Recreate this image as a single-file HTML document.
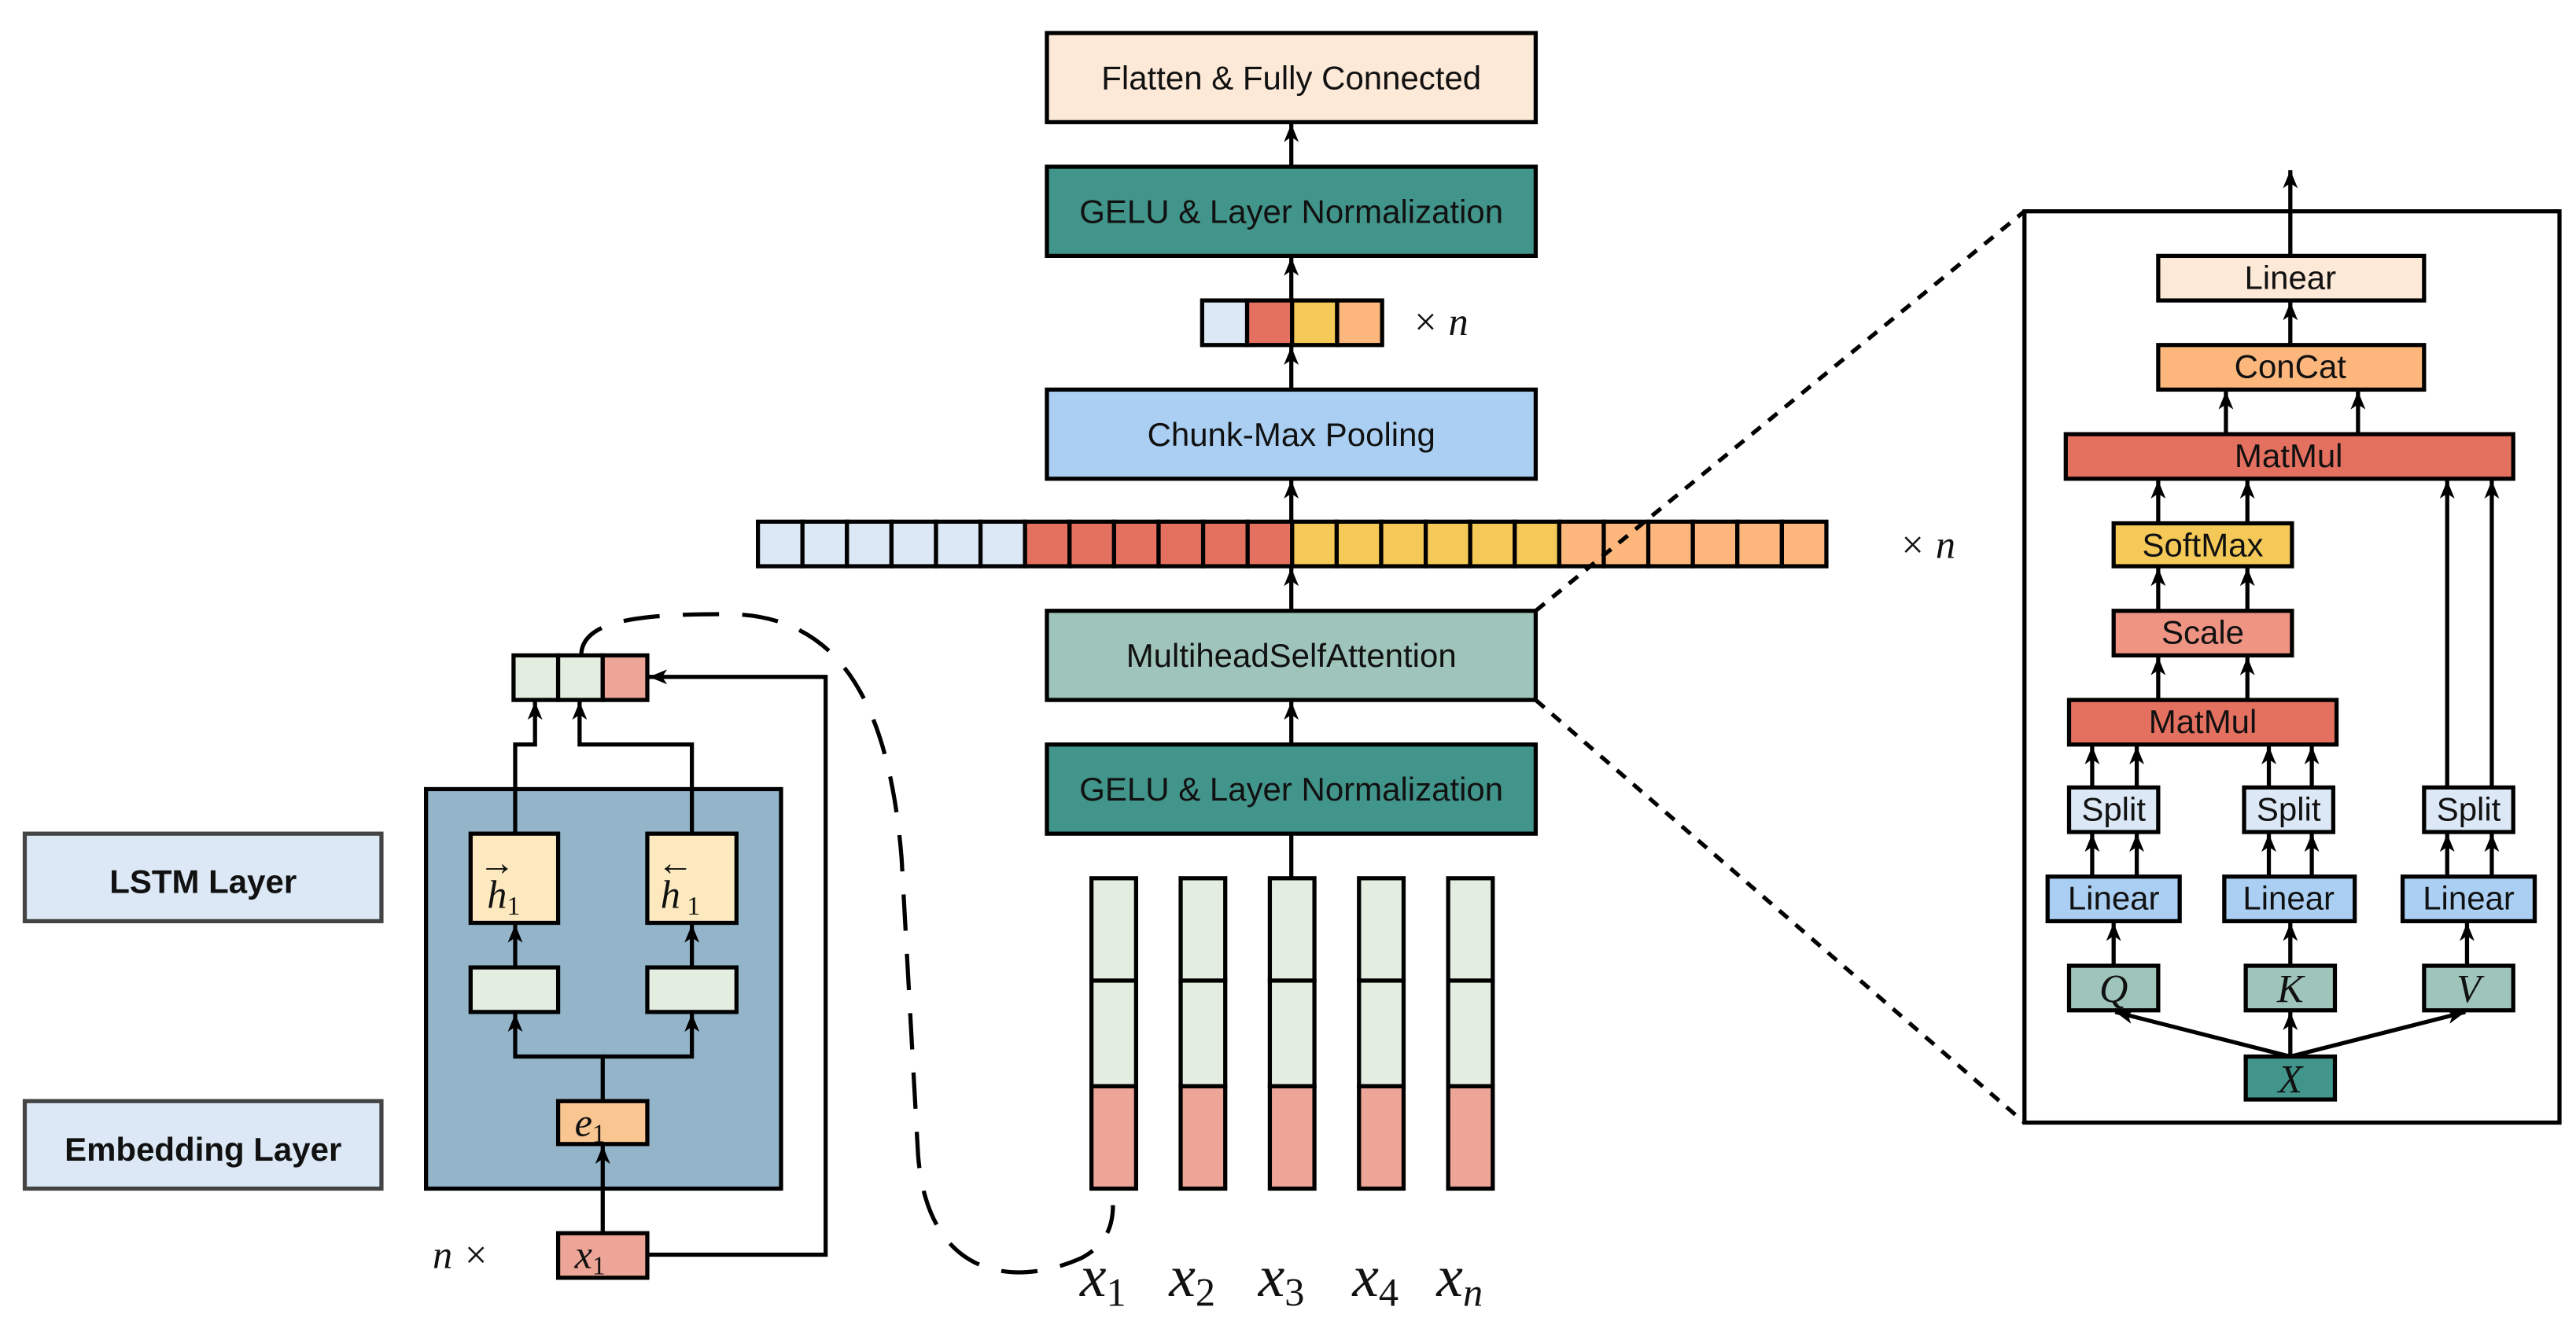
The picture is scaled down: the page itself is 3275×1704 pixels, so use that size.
<!DOCTYPE html>
<html><head><meta charset="utf-8"><style>
html,body{margin:0;padding:0;background:#fff;}
svg{display:block;}
text{font-family:"Liberation Sans",sans-serif;fill:#111;}
.m{font-family:"Liberation Serif",serif;font-style:italic;}
</style></head><body>
<svg width="3275" height="1704" viewBox="0 0 1560 811.7" preserveAspectRatio="none" xmlns="http://www.w3.org/2000/svg">
<defs>
<marker id="a" viewBox="0 0 12 12" refX="11" refY="6" markerWidth="12" markerHeight="12" markerUnits="userSpaceOnUse" orient="auto">
<path d="M0,1.5 L11,6 L0,10.5 L3,6 Z" fill="#000"/></marker>
</defs>
<g stroke="#000" stroke-width="2.5" fill="none">
<rect x="634" y="20" width="296" height="54" fill="#fde9d7"/>
<rect x="634" y="101" width="296" height="54" fill="#42958a"/>
<rect x="634" y="236" width="296" height="54" fill="#abcff2"/>
<rect x="634" y="370" width="296" height="54" fill="#9fc5bb"/>
<rect x="634" y="451" width="296" height="54" fill="#42958a"/>
<g marker-end="url(#a)">
<line x1="782" y1="101" x2="782" y2="75"/>
<line x1="782" y1="182" x2="782" y2="156"/>
<line x1="782" y1="236" x2="782" y2="210"/>
<line x1="782" y1="316" x2="782" y2="291"/>
<line x1="782" y1="370" x2="782" y2="344"/>
<line x1="782" y1="451" x2="782" y2="425"/>
</g>
<line x1="782" y1="532" x2="782" y2="506"/>
<rect x="728" y="182" width="27.25" height="27" fill="#dce8f5"/>
<rect x="755.25" y="182" width="27.25" height="27" fill="#e47060"/>
<rect x="782.5" y="182" width="27.25" height="27" fill="#f5c957"/>
<rect x="809.75" y="182" width="27.25" height="27" fill="#fdb77c"/>
</g>
<g stroke="#000" stroke-width="2.5">
<rect x="459.0" y="316" width="26.96" height="27" fill="#dce8f5"/><rect x="485.96" y="316" width="26.96" height="27" fill="#dce8f5"/><rect x="512.92" y="316" width="26.96" height="27" fill="#dce8f5"/><rect x="539.88" y="316" width="26.96" height="27" fill="#dce8f5"/><rect x="566.84" y="316" width="26.96" height="27" fill="#dce8f5"/><rect x="593.8" y="316" width="26.96" height="27" fill="#dce8f5"/>
<rect x="620.76" y="316" width="26.96" height="27" fill="#e47060"/><rect x="647.72" y="316" width="26.96" height="27" fill="#e47060"/><rect x="674.68" y="316" width="26.96" height="27" fill="#e47060"/><rect x="701.64" y="316" width="26.96" height="27" fill="#e47060"/><rect x="728.6" y="316" width="26.96" height="27" fill="#e47060"/><rect x="755.56" y="316" width="26.96" height="27" fill="#e47060"/>
<rect x="782.52" y="316" width="26.96" height="27" fill="#f5c957"/><rect x="809.48" y="316" width="26.96" height="27" fill="#f5c957"/><rect x="836.44" y="316" width="26.96" height="27" fill="#f5c957"/><rect x="863.4" y="316" width="26.96" height="27" fill="#f5c957"/><rect x="890.36" y="316" width="26.96" height="27" fill="#f5c957"/><rect x="917.32" y="316" width="26.96" height="27" fill="#f5c957"/>
<rect x="944.28" y="316" width="26.96" height="27" fill="#fdb77c"/><rect x="971.24" y="316" width="26.96" height="27" fill="#fdb77c"/><rect x="998.2" y="316" width="26.96" height="27" fill="#fdb77c"/><rect x="1025.16" y="316" width="26.96" height="27" fill="#fdb77c"/><rect x="1052.12" y="316" width="26.96" height="27" fill="#fdb77c"/><rect x="1079.08" y="316" width="26.96" height="27" fill="#fdb77c"/>
<g>
<rect x="661" y="532" width="27" height="62" fill="#e3ede0"/><rect x="661" y="594" width="27" height="64" fill="#e3ede0"/><rect x="661" y="658" width="27" height="62" fill="#eca597"/>
<rect x="715" y="532" width="27" height="62" fill="#e3ede0"/><rect x="715" y="594" width="27" height="64" fill="#e3ede0"/><rect x="715" y="658" width="27" height="62" fill="#eca597"/>
<rect x="769" y="532" width="27" height="62" fill="#e3ede0"/><rect x="769" y="594" width="27" height="64" fill="#e3ede0"/><rect x="769" y="658" width="27" height="62" fill="#eca597"/>
<rect x="823" y="532" width="27" height="62" fill="#e3ede0"/><rect x="823" y="594" width="27" height="64" fill="#e3ede0"/><rect x="823" y="658" width="27" height="62" fill="#eca597"/>
<rect x="877" y="532" width="27" height="62" fill="#e3ede0"/><rect x="877" y="594" width="27" height="64" fill="#e3ede0"/><rect x="877" y="658" width="27" height="62" fill="#eca597"/>
</g>
<line x1="930" y1="370" x2="1226" y2="128" stroke-dasharray="7 6"/>
<line x1="930" y1="424" x2="1226" y2="680" stroke-dasharray="7 6"/>
<rect x="1226" y="128" width="324" height="552" fill="#fff"/>
<rect x="1307" y="155" width="161" height="27" fill="#fde9d7"/>
<rect x="1307" y="209" width="161" height="27" fill="#fdb77c"/>
<rect x="1251" y="263" width="271" height="27" fill="#e47060"/>
<rect x="1280" y="317" width="108" height="26" fill="#f5c957"/>
<rect x="1280" y="370" width="108" height="27" fill="#ef9483"/>
<rect x="1253" y="424" width="162" height="27" fill="#e47060"/>
<rect x="1253" y="477" width="54" height="27" fill="#dce8f5"/>
<rect x="1359" y="477" width="54" height="27" fill="#dce8f5"/>
<rect x="1468" y="477" width="54" height="27" fill="#dce8f5"/>
<rect x="1240" y="531" width="80" height="27" fill="#abcff2"/>
<rect x="1347" y="531" width="79" height="27" fill="#abcff2"/>
<rect x="1455" y="531" width="80" height="27" fill="#abcff2"/>
<rect x="1253" y="585" width="54" height="27" fill="#9fc5bb"/>
<rect x="1360" y="585" width="54" height="27" fill="#9fc5bb"/>
<rect x="1468" y="585" width="54" height="27" fill="#9fc5bb"/>
<rect x="1360" y="640" width="54" height="26" fill="#42958a"/>
<g marker-end="url(#a)" fill="none">
<line x1="1387" y1="155" x2="1387" y2="103"/>
<line x1="1387" y1="209" x2="1387" y2="183"/>
<line x1="1348" y1="263" x2="1348" y2="237"/>
<line x1="1428" y1="263" x2="1428" y2="237"/>
<line x1="1307" y1="317" x2="1307" y2="291"/>
<line x1="1361" y1="317" x2="1361" y2="291"/>
<line x1="1482" y1="477" x2="1482" y2="291"/>
<line x1="1509" y1="477" x2="1509" y2="291"/>
<line x1="1307" y1="370" x2="1307" y2="344"/>
<line x1="1361" y1="370" x2="1361" y2="344"/>
<line x1="1307" y1="424" x2="1307" y2="398"/>
<line x1="1361" y1="424" x2="1361" y2="398"/>
<line x1="1267" y1="477" x2="1267" y2="452"/>
<line x1="1294" y1="477" x2="1294" y2="452"/>
<line x1="1374" y1="477" x2="1374" y2="452"/>
<line x1="1400" y1="477" x2="1400" y2="452"/>
<line x1="1267" y1="531" x2="1267" y2="505"/>
<line x1="1294" y1="531" x2="1294" y2="505"/>
<line x1="1374" y1="531" x2="1374" y2="505"/>
<line x1="1400" y1="531" x2="1400" y2="505"/>
<line x1="1482" y1="531" x2="1482" y2="505"/>
<line x1="1509" y1="531" x2="1509" y2="505"/>
<line x1="1280" y1="585" x2="1280" y2="559"/>
<line x1="1387" y1="585" x2="1387" y2="559"/>
<line x1="1494" y1="585" x2="1494" y2="559"/>
<line x1="1387" y1="640" x2="1281" y2="613"/>
<line x1="1387" y1="640" x2="1387" y2="613"/>
<line x1="1387" y1="640" x2="1493" y2="613"/>
</g>
<rect x="15" y="505" width="216" height="53" fill="#dce8f5" stroke="#444"/>
<rect x="15" y="667" width="216" height="53" fill="#dce8f5" stroke="#444"/>
<rect x="258" y="478" width="215" height="242" fill="#93b4c9"/>
<rect x="285" y="505" width="53" height="54" fill="#fde9c0"/>
<rect x="392" y="505" width="54" height="54" fill="#fde9c0"/>
<rect x="285" y="586" width="53" height="27" fill="#e3ede0"/>
<rect x="392" y="586" width="54" height="27" fill="#e3ede0"/>
<rect x="338" y="667" width="54" height="26" fill="#f9c591"/>
<rect x="338" y="747" width="54" height="27" fill="#eca597"/>
<rect x="311" y="397" width="27" height="27" fill="#e3ede0"/>
<rect x="338" y="397" width="27" height="27" fill="#e3ede0"/>
<rect x="365" y="397" width="27" height="27" fill="#eca597"/>
<g fill="none" marker-end="url(#a)">
<line x1="365" y1="747" x2="365" y2="694"/>
<polyline points="365,667 365,640 312,640 312,614"/>
<polyline points="365,640 419,640 419,614"/>
<line x1="312" y1="586" x2="312" y2="560"/>
<line x1="419" y1="586" x2="419" y2="560"/>
<polyline points="312,505 312,451 324,451 324,425"/>
<polyline points="419,505 419,451 351,451 351,425"/>
<polyline points="392,760 500,760 500,410 393,410"/>
</g>
<path d="M352,397 C352,375 390,372 440,372 C505,372 538,420 546,520 L556,700 C562,775 615,780 655,762 C668,755 674,745 674,730" fill="none" stroke-dasharray="22 14"/>
</g>
<g font-size="20" text-anchor="middle">
<text x="782" y="54">Flatten &amp; Fully Connected</text>
<text x="782" y="135">GELU &amp; Layer Normalization</text>
<text x="782" y="270">Chunk-Max Pooling</text>
<text x="782" y="404">MultiheadSelfAttention</text>
<text x="782" y="485">GELU &amp; Layer Normalization</text>
<text x="123" y="541" font-weight="bold">LSTM Layer</text>
<text x="123" y="703" font-weight="bold">Embedding Layer</text>
</g>
<g font-size="20" text-anchor="middle">
<text x="1387" y="175">Linear</text>
<text x="1387" y="229">ConCat</text>
<text x="1386" y="283">MatMul</text>
<text x="1334" y="337">SoftMax</text>
<text x="1334" y="390">Scale</text>
<text x="1334" y="444">MatMul</text>
<text x="1280" y="497">Split</text>
<text x="1386" y="497">Split</text>
<text x="1495" y="497">Split</text>
<text x="1280" y="551">Linear</text>
<text x="1386" y="551">Linear</text>
<text x="1495" y="551">Linear</text>
</g>
<g text-anchor="middle" font-size="24">
<text class="m" x="1280" y="607">Q</text>
<text class="m" x="1387" y="607">K</text>
<text class="m" x="1495" y="607">V</text>
<text class="m" x="1387" y="662">X</text>
</g>
<g font-size="24">
<text class="m" x="855" y="203">× n</text>
<text class="m" x="1150" y="338">× n</text>
<text class="m" x="262" y="768">n ×</text>
<text class="m" x="348" y="688">e<tspan font-size="16" dy="4" font-style="normal">1</tspan></text>
<text class="m" x="348" y="768">x<tspan font-size="16" dy="4" font-style="normal">1</tspan></text>
<text class="m" x="295" y="550">h<tspan font-size="16" dy="4" font-style="normal">1</tspan></text>
<text x="290" y="530" font-size="22">→</text>
<text class="m" x="400" y="550">h<tspan font-size="16" dy="4" font-style="normal"> 1</tspan></text>
<text x="398" y="530" font-size="22">←</text>
</g>
<g font-size="36">
<text class="m" x="654" y="785">x<tspan font-size="24" dy="6" font-style="normal">1</tspan></text>
<text class="m" x="708" y="785">x<tspan font-size="24" dy="6" font-style="normal">2</tspan></text>
<text class="m" x="762" y="785">x<tspan font-size="24" dy="6" font-style="normal">3</tspan></text>
<text class="m" x="819" y="785">x<tspan font-size="24" dy="6" font-style="normal">4</tspan></text>
<text class="m" x="870" y="785">x<tspan font-size="24" dy="6">n</tspan></text>
</g>
</svg>
</body></html>
